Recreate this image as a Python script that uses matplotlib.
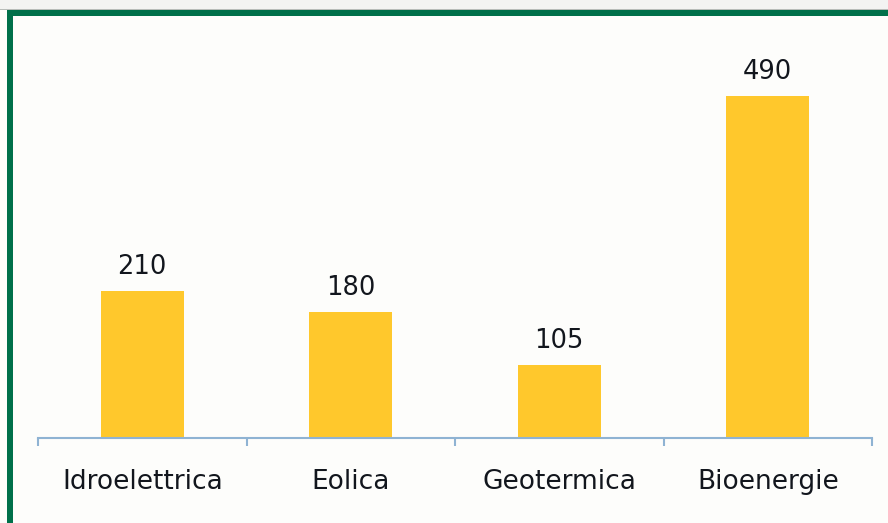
import matplotlib.pyplot as plt
from matplotlib.patches import Rectangle

# Data
categorie = ["Idroelettrica", "Eolica", "Geotermica", "Bioenergie"]
valori = [210, 180, 105, 490]

W, H = 888, 523
fig = plt.figure(figsize=(W / 100, H / 100), dpi=100)
fig.patch.set_facecolor("#fdfdfb")

# light strip above the frame
fig.patches.append(Rectangle((0, (H - 9) / H), 1, 9 / H, transform=fig.transFigure,
                             facecolor="#f3f3f2", edgecolor="none"))
fig.patches.append(Rectangle((0, (H - 10) / H), 1, 1 / H, transform=fig.transFigure,
                             facecolor="#b8bcb9", edgecolor="none"))
# green frame (top and left edges)
verde = "#00704a"
fig.patches.append(Rectangle((7 / W, 0), 6 / W, (H - 10) / H, transform=fig.transFigure,
                             facecolor=verde, edgecolor="none"))
fig.patches.append(Rectangle((7 / W, (H - 16) / H), 1 - 7 / W, 6 / H, transform=fig.transFigure,
                             facecolor=verde, edgecolor="none"))

ax = fig.add_axes([38 / W, (H - 438) / H, (872 - 38) / W, (438 - 30) / H])
ax.set_facecolor("none")

x = range(len(categorie))
bars = ax.bar(x, valori, width=0.40, color="#ffc82c")

ax.set_xlim(-0.5, 3.5)
ax.set_ylim(0, 584)

for s in ["top", "right", "left"]:
    ax.spines[s].set_visible(False)
ax.spines["bottom"].set_color("#8fb3d3")
ax.spines["bottom"].set_linewidth(1.5)
ax.set_yticks([])

# boundaries between categories
ax.set_xticks([-0.5, 0.5, 1.5, 2.5, 3.5])
ax.set_xticklabels([])
ax.tick_params(axis="x", which="major", direction="out", length=6, width=1.5,
               color="#8fb3d3")
ax.set_xticks(list(x), minor=True)
ax.set_xticklabels(categorie, minor=True, fontsize=19, color="#12161d")
ax.tick_params(axis="x", which="minor", length=0, pad=22)

for i, v in enumerate(valori):
    ax.annotate(str(v), (i, v), xytext=(0, 8), textcoords="offset points",
                ha="center", va="bottom", fontsize=18.5, color="#12161d")

plt.savefig("out.png", dpi=100)
